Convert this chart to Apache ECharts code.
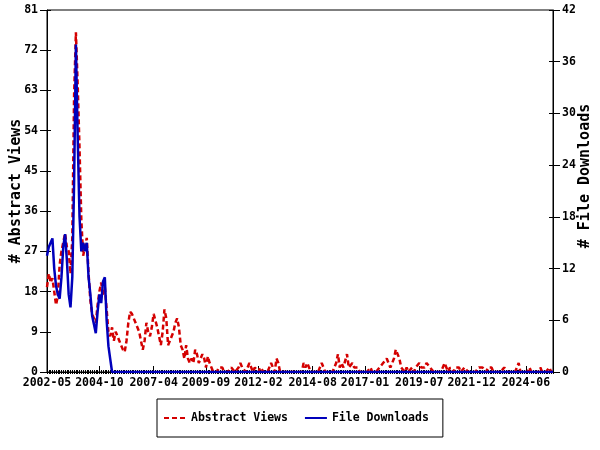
<!DOCTYPE html>
<html><head><meta charset="utf-8">
<script src="https://cdn.jsdelivr.net/npm/echarts@6/dist/echarts.min.js"></script>
<style>html,body{margin:0;padding:0;background:#fff}#c{width:600px;height:450px}</style>
</head><body><div id="c"></div>
<script>
const startYear = 2002, startMonth = 5, monthCount = 281;
const tickLabels = ['2002-05','2004-10','2007-04','2009-09','2012-02','2014-08','2017-01','2019-07','2021-12','2024-06'];
const leftTicks = {min: 0, max: 81, interval: 9};
const rightTicks = {min: 0, max: 42, interval: 6};
const abstractViews = [
19,22,20,21,18,15,17,24,27,29,
31,28,27,22,30,62,76,64,50,34,
26,28,30,22,16,13,12,11,15,18,
20,17,19,14,9,8,10,7,9,8,
7,6,5,4.5,7,11,13.5,13,12,11,
10,9,7,5,7,11,9,8,10,13,
13,10,8,6,9,14,12,6,7,8,
9,11,12,10,6,5,3,6,3,2,
3,2,5,4,2,2,4,3,1,3.5,
2,1,0,0,0,1,1,1,0,0,
0,0,1,1,0,0,1,2,1,1,
0,1,2,1,0,1,1,0,1,1,
0,0,0,0,2,1,0,3,2,0,
0,0,0,0,0,0,0,0,0,0,
0,0,2,1,2,1,0,0,0,0,
0,1,2,1,0,0,0,0,0,0,
2,4,1,2,1,1,4,1,1,2,
1,1,1,0,0,0,0,0,0,1,
0,0,0,0,1,1,2,2,3,2,
1,1,3,5,4,3,1,1,0,1,
0,0,1,0,1,1,2,1,1,1,
2,2,1,1,0,0,0,0,0,0,
2,1,0,1,1,0,1,1,1,0,
0,1,1,0,0,0,0,0,0,1,
1,1,1,0,1,1,1,0,0,0,
0,0,0,1,1,0,0,0,0,0,
0,2,0,0,0,0,0,1,0,0,
0,0,0,1,0,0,0,0,1,0,
0];
const fileDownloads = [
13.5,14.5,15,15.5,12,10,9,8.5,11,14.5,
16,13,9,7.5,11,22,38,27,18,14,
15,14,15,11,9,6.5,5.5,4.5,7,9,
8,10.5,11,6,3,1.5,0,0,0,0,
0,0,0,0,0,0,0,0,0,0,
0,0,0,0,0,0,0,0,0,0,
0,0,0,0,0,0,0,0,0,0,
0,0,0,0,0,0,0,0,0,0,
0,0,0,0,0,0,0,0,0,0,
0,0,0,0,0,0,0,0,0,0,
0,0,0,0,0,0,0,0,0,0,
0,0,0,0,0,0,0,0,0,0,
0,0,0,0,0,0,0,0,0,0,
0,0,0,0,0,0,0,0,0,0,
0,0,0,0,0,0,0,0,0,0,
0,0,0,0,0,0,0,0,0,0,
0,0,0,0,0,0,0,0,0,0,
0,0,0,0,0,0,0,0,0,0,
0,0,0,0,0,0,0,0,0,0,
0,0,0,0,0,0,0,0,0,0,
0,0,0,0,0,0,0,0,0,0,
0,0,0,0,0,0,0,0,0,0,
0,0,0,0,0,0,0,0,0,0,
0,0,0,0,0,0,0,0,0,0,
0,0,0,0,0,0,0,0,0,0,
0,0,0,0,0,0,0,0,0,0,
0,0,0,0,0,0,0,0,0,0,
0,0,0,0,0,0,0,0,0,0,
0];
const months = [];
for (let i = 0; i < monthCount; i++) {
  const t = (startMonth - 1) + i;
  const y = startYear + Math.floor(t / 12), m = t % 12 + 1;
  months.push(y + '-' + (m < 10 ? '0' + m : m));
}
const FONT = "'DejaVu Sans Mono', monospace";
const RED = '#d40000', BLUE = '#0000bb';
const isMajor = (i, v) => tickLabels.indexOf(v) >= 0;
const lbl = {fontFamily: FONT, fontWeight: 'bold', fontSize: 11.5, color: '#000'};
const chart = echarts.init(document.getElementById('c'), null, {renderer: 'canvas'});
chart.setOption({
  animation: false,
  grid: {left: 47, right: 47, top: 10, bottom: 78, outerBoundsMode: 'none', containLabel: false,
         show: true, borderColor: '#000', borderWidth: 1, backgroundColor: 'transparent'},
  legend: {
    bottom: 13, left: 157, orient: 'horizontal',
    data: ['Abstract Views', 'File Downloads'],
    borderColor: '#000', borderWidth: 1, padding: [13, 14, 13, 6],
    itemWidth: 22, itemHeight: 12, itemGap: 16,
    itemStyle: {opacity: 0},
    textStyle: {fontFamily: FONT, fontWeight: 'bold', fontSize: 11.5, color: '#000'}
  },
  xAxis: [
    {type: 'category', data: months, boundaryGap: false, position: 'bottom',
     axisLine: {show: true, lineStyle: {color: '#000', width: 1}},
     axisTick: {show: true, interval: isMajor, inside: true, length: 6, lineStyle: {color: '#000'}},
     axisLabel: {show: true, interval: isMajor, margin: 5, ...lbl},
     splitLine: {show: false}},
    {type: 'category', data: months, boundaryGap: false, position: 'bottom', offset: 0,
     axisLine: {show: false}, axisTick: {show: true, interval: 0, inside: false, length: 2, lineStyle: {color: '#000'}},
     axisLabel: {show: false}, splitLine: {show: false}},
    {type: 'category', data: months, boundaryGap: false, position: 'bottom', offset: 0,
     axisLine: {show: false}, axisTick: {show: true, interval: 0, inside: true, length: 2, lineStyle: {color: '#000'}},
     axisLabel: {show: false}, splitLine: {show: false}}
  ],
  yAxis: [
    {type: 'value', position: 'left', ...leftTicks, name: '# Abstract Views', nameLocation: 'middle', nameGap: 23, nameRotate: 90,
     nameMoveOverlap: false,
     nameTextStyle: {fontFamily: FONT, fontWeight: 'bold', fontSize: 15, color: '#000'},
     axisLine: {show: true, lineStyle: {color: '#000'}}, axisTick: {show: true, length: 7, lineStyle: {color: '#000'}},
     axisLabel: {margin: 9, ...lbl}, splitLine: {show: false}},
    {type: 'value', position: 'right', ...rightTicks, name: '# File Downloads', nameLocation: 'middle', nameGap: 25, nameRotate: 90,
     nameMoveOverlap: false,
     nameTextStyle: {fontFamily: FONT, fontWeight: 'bold', fontSize: 15, color: '#000', padding: [0, 0, 0, 30]},
     axisLine: {show: true, lineStyle: {color: '#000'}}, axisTick: {show: true, length: 7, lineStyle: {color: '#000'}},
     axisLabel: {margin: 9, ...lbl}, splitLine: {show: false}},
    {type: 'value', position: 'left', ...leftTicks, axisLine: {show: false},
     axisTick: {show: true, inside: true, length: 4, lineStyle: {color: '#000'}}, axisLabel: {show: false}, splitLine: {show: false}},
    {type: 'value', position: 'right', ...rightTicks, axisLine: {show: false},
     axisTick: {show: true, inside: true, length: 4, lineStyle: {color: '#000'}}, axisLabel: {show: false}, splitLine: {show: false}}
  ],
  series: [
    {name: 'Abstract Views', type: 'line', xAxisIndex: 0, yAxisIndex: 0, data: abstractViews, symbol: 'none',
     lineStyle: {color: RED, width: 2.5, type: [5, 3]}, itemStyle: {color: RED}, z: 2},
    {name: 'File Downloads', type: 'line', xAxisIndex: 0, yAxisIndex: 1, data: fileDownloads, symbol: 'none',
     lineStyle: {color: BLUE, width: 2.5}, itemStyle: {color: BLUE}, z: 3}
  ]
});
</script></body></html>
